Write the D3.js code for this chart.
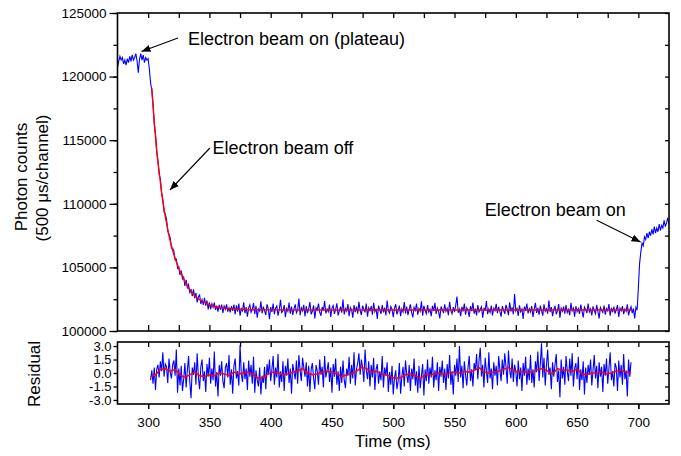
<!DOCTYPE html>
<html><head><meta charset="utf-8">
<script src="https://cdn.jsdelivr.net/npm/d3@7"></script>
<style>body{margin:0;background:#fff}svg{display:block}text{font-family:"Liberation Sans",Arial,sans-serif;fill:#000}</style>
</head><body><svg id="c" width="681" height="456"></svg>
<script>
// ---------- DATA ----------
const mainStart = 275;   // ms, 1 ms per value
const mainCounts = [
120700,121200,121600,121300,121500,121000,121300,120900,121400,121100,
121600,121200,121700,121300,121500,121800,121200,120300,121400,121800,
121300,121700,121100,121500,121300,121400,120600,119500,
118900,117850,116300,115500,114050,113400,112300,111950,110800,110350,
109350,109200,108800,107850,107600,107350,106500,106500,106300,105600,
105650,104950,105050,104400,104750,104100,104250,103550,104020,103410,
103650,102950,103300,102740,103280,102580,102990,102250,102690,102830,
102120,102460,102050,102600,102000,102400,101700,102250,101720,102140,
101860,102230,101660,101990,101520,102050,101690,102080,101420,101960,
101700,102090,101530,101820,101460,101950,101590,102080,
101300,102010,101520,102150,101200,101760,101590,102250,101400,101880,
101120,101800,102060,101470,101700,102190,101340,101980,101050,101730,
101560,102330,101380,101920,101600,101250,102090,101740,100920,101880,
101500,102160,101320,101790,101970,101200,101700,102450,101460,101590,
102030,101080,101770,101550,102240,101370,101910,101260,101740,102100,
101430,101640,102550,101250,101830,101580,102060,101140,101950,101400,
101730,102270,101310,101550,102010,100980,101820,101640,102150,101470,
101200,101890,101600,102360,101380,101730,101520,102070,101100,101800,
102000,101340,101710,102180,101230,101580,101910,101440,102480,101300,
101770,101560,102120,101170,101850,101650,101050,102030,101490,101910,
101370,102300,101590,101260,101980,101730,101460,102160,101130,101820,
101600,101950,101290,102220,101520,101760,100950,102000,101640,101350,
102040,101470,101830,101220,102400,101580,101400,101920,101710,101080,
101790,102100,101310,101590,102000,101170,101730,101500,102270,101380,
101910,101250,101710,102090,101440,101070,101850,101620,102160,101280,
101760,101550,102330,101200,101970,101600,101350,102040,101490,101700,
101160,101980,101580,102210,101340,101800,101520,100990,101920,101680,
101410,102090,101550,101770,101250,102300,101600,101350,101880,101490,
102030,102700,101430,101710,101170,101910,101530,102150,101290,101820,
101620,101100,101950,101560,102240,101370,101760,101230,102040,101500,
101710,101910,101040,101820,101580,102360,101320,101730,101460,102000,
101220,101790,101600,102130,101400,101890,101520,101130,101950,101640,
101350,102060,101710,101250,102250,101530,101850,101310,102900,101580,
101770,101190,102010,101520,101730,100950,101920,101590,102160,101380,
101760,101500,101970,101110,101700,102220,101430,101820,101280,102000,
101600,101200,102090,101550,101740,101370,102400,101490,101880,101170,
101710,101980,101320,101580,102120,101050,101790,101550,101910,101370,
102030,101460,101700,101250,102210,101590,101800,101130,101950,101520,
101760,101340,102070,101560,101070,101890,101680,101410,102150,101500,
101730,101220,101940,101600,101350,102040,101550,100980,101860,101640,
101470,102000,101290,101760,101580,102120,101200,101830,101490,101910,
101370,101710,102030,101100,101790,101590,101950,101320,101730,101550,
102100,101230,101670,101910,101400,101770,100980,101860,101640,
103400,105300,106200,106900,106700,107400,107200,107700,107300,107800,
107500,108000,107600,108200,107700,108100,107800,108400,107900,108300,
108100,108700,108200,108500,108900,108400
];
const fitTime = [303,304,305,306,307,308,309,310,311,312,313,314,315,316,317,318,319,320,322,324,326,328,330,333,336,340,345,350,355,360,370,380,400,450,500,550,600,650,695];
const fitCounts = [119100,117700,116400,115300,114200,113300,112500,111700,110900,110200,109600,109000,108500,108000,107500,107100,106700,106350,105700,105200,104700,104300,103900,103400,102990,102600,102300,102050,101910,101830,101730,101690,101660,101650,101650,101650,101650,101650,101650];

const residStart = 302;  // ms, 1 ms per value
const residValues = [
-0.8,0.3,-1.2,0.6,-1.9,0.4,0.9,-0.5,1.3,0.2,
2.3,-0.4,1.0,0.7,-1.1,1.6,0.1,-0.6,0.9,1.4,
-0.3,2.6,-2.2,0.5,-1.4,0.8,-2.0,-0.7,1.1,-1.6,
0.3,1.9,-1.0,-2.8,0.6,-0.2,1.2,-1.3,2.2,-0.5,
-1.8,0.7,1.5,-0.9,0.2,-2.1,1.0,-0.4,1.7,-1.2,
0.5,-0.8,2.4,-1.5,0.1,-2.6,0.9,-0.3,1.3,-0.9,
-1.7,0.6,1.1,-0.5,2.0,-1.3,0.4,-2.3,0.8,1.6,
-0.6,0.2,-1.4,3.1,-0.1,-1.0,1.2,-0.7,0.5,-1.9,
1.4,-0.4,0.9,-1.2,1.8,-2.2,0.3,-0.8,-1.5,0.6,
-2.4,-0.3,-1.1,0.7,-1.8,1.0,-0.2,1.5,-0.9,0.4,
1.9,-1.3,0.6,-0.5,2.1,-1.6,0.2,-1.0,1.3,-2.0,
0.8,-0.3,1.6,-1.1,0.5,-2.3,1.0,0.1,-0.7,1.4,
-1.2,2.0,0.3,-0.9,1.7,0.6,-0.4,1.2,-1.5,0.8,
-2.1,0.4,1.1,-0.6,-1.8,0.9,0.2,-1.3,1.5,-0.2,
0.7,-1.6,1.9,-0.5,0.3,1.2,-1.0,0.6,-2.2,1.0,
-0.4,1.6,-1.3,0.2,-2.0,0.7,-1.1,1.4,-0.8,-1.7,
0.5,-0.3,1.8,-1.2,0.9,-0.6,2.3,-1.4,0.4,1.1,
2.2,-0.2,1.5,0.6,-1.0,2.6,0.3,-0.7,1.3,-1.5,
0.9,-0.5,1.7,-1.9,0.4,1.0,-1.2,0.2,-0.8,1.9,
-1.6,0.6,-0.3,1.2,-2.1,0.1,-1.3,0.8,-2.4,-0.6,
0.3,-1.8,-0.9,1.1,-2.3,-0.4,0.7,-1.5,1.4,-0.2,
-1.1,0.9,-2.0,0.5,-0.7,1.6,-1.4,0.2,-2.2,0.8,
-1.7,-0.3,1.0,-2.5,0.4,-0.9,1.5,-1.2,0.6,-0.5,
1.8,-1.6,0.3,-0.8,1.2,-2.0,0.7,-0.4,1.4,-1.1,
0.5,-1.9,1.0,-0.6,2.0,-1.3,0.2,-2.4,0.9,-0.3,
1.6,-1.0,3.0,-0.5,0.8,-1.7,1.3,-0.2,-1.4,0.6,
1.9,-0.9,0.4,-1.5,1.1,0.3,2.1,-0.7,1.4,2.8,
-0.4,0.9,-1.6,1.7,0.2,-1.1,2.3,-0.6,0.5,-1.8,
1.2,-0.3,0.8,-1.4,1.9,0.4,-0.9,1.5,-0.2,2.2,
0.7,-1.2,2.5,0.3,-0.6,1.6,-1.0,0.9,0.2,-1.5,
1.4,-0.7,0.6,-2.0,1.1,-0.3,1.8,-1.3,0.5,-0.8,
2.0,-1.1,0.4,-1.6,1.3,0.1,2.4,-0.9,1.0,3.3,
-0.5,1.7,-1.4,0.8,2.6,-0.2,0.6,-1.8,1.2,-0.4,
0.9,2.1,-1.0,0.3,-2.7,1.5,-0.6,0.7,-1.3,1.9,
0.2,-0.9,1.6,-0.3,2.2,-1.5,0.5,1.1,-0.7,1.8,
-1.9,0.4,-0.8,1.3,-2.4,0.6,-1.1,0.9,-0.2,1.5,
-1.4,0.3,2.0,-0.6,0.8,-1.7,1.2,-0.4,0.7,-2.1,
1.0,-0.3,1.6,-1.2,0.5,2.3,-0.8,0.2,-1.5,1.1,
0.6,-2.0,1.4,-0.5,0.9,-1.3,2.1,-0.7,0.3,-2.6,
1.5,-0.4,1.2
];
const residFitStart = 302, residFitStep = 4;
const residFitValues = [
-0.4,-0.2,0.4,0.5,0.2,0.4,-0.2,-0.5,-0.2,0.1,
-0.3,-0.4,-0.2,-0.3,0.0,-0.1,-0.3,0.1,-0.1,0.0,
0.1,-0.2,-0.6,-0.5,-0.1,0.1,0.0,-0.2,-0.1,0.1,
0.2,0.5,0.0,-0.2,-0.1,0.1,0.2,0.1,-0.1,-0.4,
-0.2,-0.1,0.2,0.6,0.5,0.1,0.2,-0.1,-0.2,-0.4,
-0.6,-0.5,-0.2,-0.1,-0.3,-0.6,-0.2,-0.2,-0.1,0.0,
-0.2,0.0,0.1,0.0,0.2,0.1,0.3,0.6,0.1,0.0,
0.1,0.2,0.4,0.6,0.3,0.1,0.2,0.0,0.1,0.4,
0.5,0.2,-0.1,0.5,0.3,0.3,0.2,0.4,-0.1,-0.2,
0.0,0.0,0.1,-0.1,0.0,0.2,0.3,0.1,0.0
];
const xTickLabels = [300,350,400,450,500,550,600,650,700];
const yMainTicks = [100000,105000,110000,115000,120000,125000];
const yResidTicks = [-3.0,-1.5,0.0,1.5,3.0];
const annotations = [
  {text:"Electron beam on (plateau)", tx:332.5, ty:122480, ax:324.3, ay:123035, px:294.6, py:121973},
  {text:"Electron beam off", tx:352.6, ty:113910, ax:350.4, ay:114387, px:317.8, py:111085},
  {text:"Electron beam on", tx:574.6, ty:109040, ax:666.0, ay:108700, px:701.8, py:106997}
];

// ---------- LAYOUT ----------
const svg = d3.select("#c");
const L = 117.5, R = 669, T = 13, B = 331, RT = 342, RB = 404;
const x = d3.scaleLinear().domain([275, 725]).range([L, R]);
const y = d3.scaleLinear().domain([100000, 125000]).range([B, T]);
const yr = d3.scaleLinear().domain([-3.45, 3.45]).range([RB, RT]);

const defs = svg.append("defs");
defs.append("clipPath").attr("id","cm").append("rect").attr("x",L).attr("y",T).attr("width",R-L).attr("height",B-T);
defs.append("clipPath").attr("id","cr").append("rect").attr("x",L).attr("y",RT).attr("width",R-L).attr("height",RB-RT);
defs.append("marker").attr("id","ah").attr("viewBox","0 0 10 10").attr("refX",10).attr("refY",5)
  .attr("markerWidth",9).attr("markerHeight",9).attr("markerUnits","userSpaceOnUse").attr("orient","auto")
  .append("path").attr("d","M0,1 L10,5 L0,9 Z").attr("fill","#000");

const mainData = mainCounts.map((v,i)=>({t:mainStart+i, v}));
const fitData = fitTime.map((t,i)=>({t, v:fitCounts[i]}));
const residData = residValues.map((v,i)=>({t:residStart+i, v}));
const residFitData = residFitValues.map((v,i)=>({t:residFitStart+i*residFitStep, v}));

const lineMain = d3.line().x(d=>x(d.t)).y(d=>y(d.v));
const lineFit = d3.line().x(d=>x(d.t)).y(d=>y(d.v)).curve(d3.curveMonotoneX);
const lineRes = d3.line().x(d=>x(d.t)).y(d=>yr(d.v));

svg.append("g").attr("clip-path","url(#cm)").append("path").datum(mainData)
  .attr("d", lineMain).attr("fill","none").attr("stroke","#0000ff").attr("stroke-width",1.1);
svg.append("g").attr("clip-path","url(#cm)").append("path").datum(fitData)
  .attr("d", lineFit).attr("fill","none").attr("stroke","#ff0000").attr("stroke-width",1.4);
svg.append("g").attr("clip-path","url(#cr)").append("path").datum(residData)
  .attr("d", lineRes).attr("fill","none").attr("stroke","#0000ff").attr("stroke-width",1.1);
svg.append("g").attr("clip-path","url(#cr)").append("path").datum(residFitData)
  .attr("d", lineRes).attr("fill","none").attr("stroke","#ff0000").attr("stroke-width",1.5);

// ---------- AXES ----------
const xMinor = d3.range(300, 701, 25);
const yMainMinor = d3.range(100000, 125001, 2500);
function clean(g){ g.select(".domain").remove(); g.selectAll(".tick line").attr("stroke","#000").attr("stroke-width",1.3); return g; }

clean(svg.append("g").attr("transform",`translate(${L},0)`)
  .call(d3.axisLeft(y).tickValues(yMainMinor).tickSize(4).tickFormat("")));
const yl = clean(svg.append("g").attr("transform",`translate(${L},0)`)
  .call(d3.axisLeft(y).tickValues(yMainTicks).tickSize(8).tickPadding(3).tickFormat(d3.format("d"))));
yl.selectAll("text").attr("font-size","13.5px").attr("font-family","'Liberation Sans',Arial,sans-serif");
clean(svg.append("g").attr("transform",`translate(${R},0)`)
  .call(d3.axisRight(y).tickValues(yMainMinor).tickSize(-4).tickFormat("")));
clean(svg.append("g").attr("transform",`translate(0,${T})`)
  .call(d3.axisTop(x).tickValues(xMinor).tickSize(-5).tickFormat("")));
clean(svg.append("g").attr("transform",`translate(0,${B})`)
  .call(d3.axisBottom(x).tickValues(xMinor).tickSize(-6).tickFormat("")));

const rl = clean(svg.append("g").attr("transform",`translate(${L},0)`)
  .call(d3.axisLeft(yr).tickValues(yResidTicks).tickSize(4).tickPadding(2).tickFormat(d=>d.toFixed(1))));
rl.selectAll("text").attr("font-size","13px").attr("font-family","'Liberation Sans',Arial,sans-serif");
clean(svg.append("g").attr("transform",`translate(${R},0)`)
  .call(d3.axisRight(yr).tickValues(yResidTicks).tickSize(-4).tickFormat("")));
clean(svg.append("g").attr("transform",`translate(0,${RT})`)
  .call(d3.axisTop(x).tickValues(xMinor).tickSize(-5).tickFormat("")));
clean(svg.append("g").attr("transform",`translate(0,${RB})`)
  .call(d3.axisBottom(x).tickValues(xMinor).tickSize(5).tickFormat("")));
const xl = clean(svg.append("g").attr("transform",`translate(0,${RB})`)
  .call(d3.axisBottom(x).tickValues(xTickLabels).tickSize(5).tickFormat(d3.format("d"))));
xl.selectAll("text").attr("font-size","13.5px").attr("font-family","'Liberation Sans',Arial,sans-serif")
  .attr("dy",null).attr("y",23);

svg.append("rect").attr("x",L).attr("y",T).attr("width",R-L).attr("height",B-T)
  .attr("fill","none").attr("stroke","#000").attr("stroke-width",1.6);
svg.append("rect").attr("x",L).attr("y",RT).attr("width",R-L).attr("height",RB-RT)
  .attr("fill","none").attr("stroke","#000").attr("stroke-width",1.6);

// ---------- TITLES ----------
svg.append("text").attr("x",(L+R)/2 - 0.5).attr("y",447).attr("text-anchor","middle")
  .attr("font-size","17px").text("Time (ms)");
svg.append("text").attr("transform","translate(27,177) rotate(-90)").attr("text-anchor","middle")
  .attr("font-size","17px").text("Photon counts");
svg.append("text").attr("transform","translate(48,178) rotate(-90)").attr("text-anchor","middle")
  .attr("font-size","17px").text("(500 \u03bcs/channel)");
svg.append("text").attr("transform","translate(40,374) rotate(-90)").attr("text-anchor","middle")
  .attr("font-size","17px").text("Residual");

// ---------- ANNOTATIONS ----------
annotations.forEach(a=>{
  svg.append("text").attr("x",x(a.tx)).attr("y",y(a.ty)).attr("font-size","18px").text(a.text);
  svg.append("line").attr("x1",x(a.ax)).attr("y1",y(a.ay)).attr("x2",x(a.px)).attr("y2",y(a.py))
    .attr("stroke","#000").attr("stroke-width",1.1).attr("marker-end","url(#ah)");
});
</script></body></html>
